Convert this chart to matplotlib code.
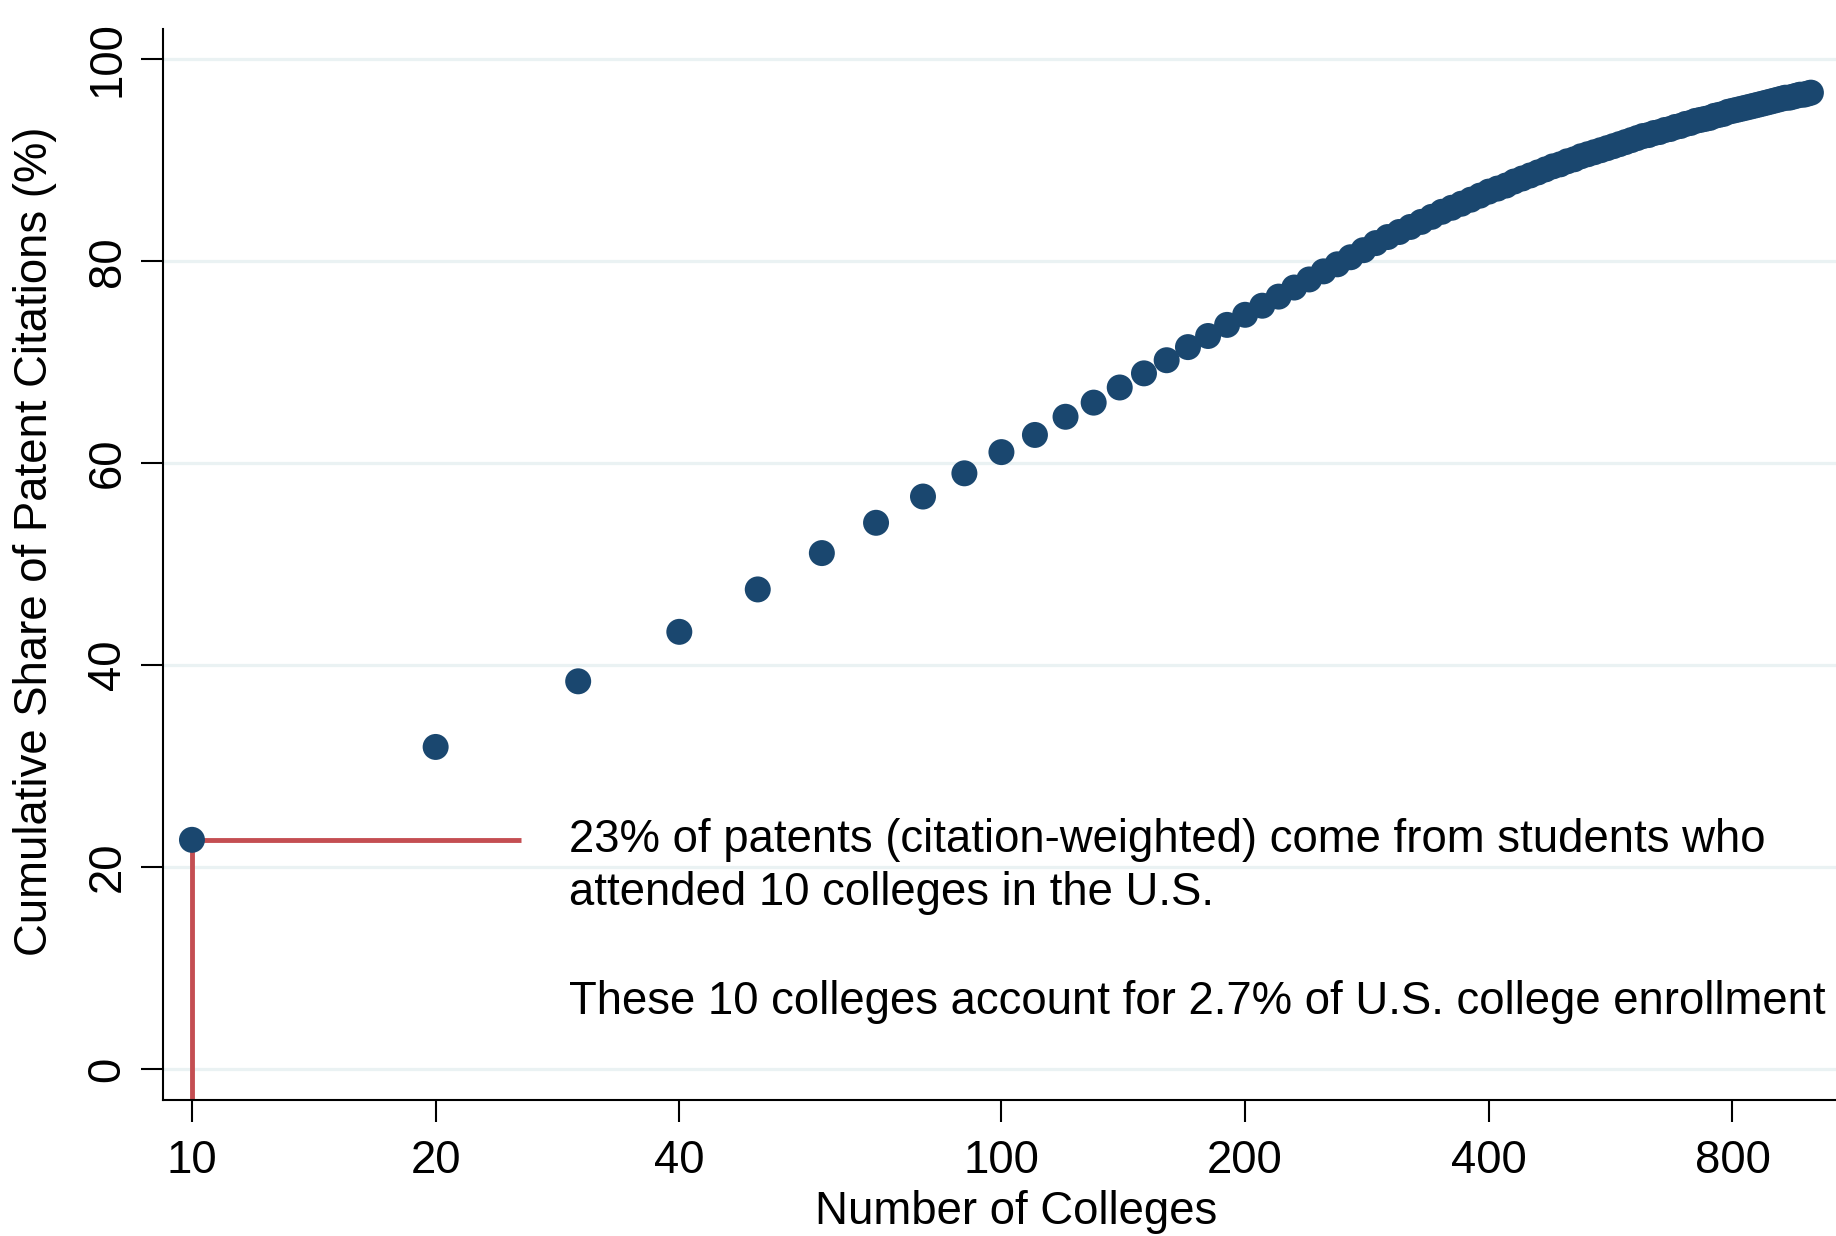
import matplotlib
matplotlib.use("Agg")
import matplotlib.pyplot as plt
import matplotlib.ticker as ticker

# ── data ──────────────────────────────────────────────────────────────────────
# number of colleges (top N), every 10 from 10 to 1000
n_colleges = list(range(10, 1001, 10))

# cumulative share of citation-weighted patents (%)
cum_share = [
    22.7, 31.9, 38.4, 43.3, 47.5, 51.1, 54.1, 56.7, 59.0, 61.1,   # 10-100
    62.8, 64.6, 66.0, 67.5, 68.9, 70.2, 71.5, 72.6, 73.7, 74.7,   # 110-200
    75.6, 76.5, 77.4, 78.2, 79.0, 79.7, 80.4, 81.1, 81.8, 82.4,   # 210-300
    82.9, 83.4, 83.9, 84.4, 84.9, 85.3, 85.7, 86.1, 86.5, 86.9,   # 310-400
    87.2, 87.5, 87.9, 88.2, 88.5, 88.8, 89.1, 89.4, 89.6, 89.9,   # 410-500
    90.1, 90.4, 90.6, 90.8, 91.0, 91.2, 91.4, 91.6, 91.8, 92.0,   # 510-600
    92.2, 92.4, 92.5, 92.7, 92.8, 93.0, 93.1, 93.3, 93.4, 93.6,   # 610-700
    93.7, 93.9, 94.0, 94.1, 94.2, 94.4, 94.5, 94.6, 94.8, 94.9,   # 710-800
    95.0, 95.1, 95.2, 95.3, 95.4, 95.5, 95.6, 95.7, 95.8, 95.9,   # 810-900
    96.0, 96.1, 96.2, 96.2, 96.3, 96.4, 96.5, 96.5, 96.6, 96.7,   # 910-1000
]

x_ticks = [10, 20, 40, 100, 200, 400, 800]
y_ticks = [0, 20, 40, 60, 80, 100]

# highlighted point: top 10 colleges
hl_n = 10
hl_share = 22.7
hl_line_end = 25.5   # where the horizontal marker line stops

note_lines = [
    "23% of patents (citation-weighted) come from students who",
    "attended 10 colleges in the U.S.",
    "These 10 colleges account for 2.7% of U.S. college enrollment",
]

# ── style ─────────────────────────────────────────────────────────────────────
plt.rcParams['font.family'] = ['Liberation Sans', 'DejaVu Sans']
FS = 32.8
NAVY = '#1a476f'
RED = '#c44e52'
GRID = '#eaf2f3'

fig = plt.figure(figsize=(18.36, 12.36), dpi=100, facecolor='white')
ax = fig.add_axes([0.0888, 0.110, 1 - 0.0888, 0.9765 - 0.110])

ax.set_xscale('log')
ax.set_xlim(9.21, 1074)
ax.set_ylim(-3.07, 103.0)

# horizontal gridlines at the y ticks
for yv in y_ticks:
    ax.axhline(yv, color=GRID, linewidth=2.3, zorder=0)

# red guide lines for the top-10 point
ax.plot([hl_n, hl_line_end], [hl_share, hl_share], color=RED,
        linewidth=3.5, solid_capstyle='butt', zorder=2)
ax.plot([hl_n, hl_n], [hl_share, -3.07], color=RED,
        linewidth=3.5, solid_capstyle='butt', zorder=2)

# the scatter itself
ax.scatter(n_colleges, cum_share, s=350, color=NAVY, edgecolors='none',
           zorder=3, clip_on=False)

# annotation text
ax.text(29.2, 22.67, note_lines[0], fontsize=FS, va='center', ha='left')
ax.text(29.2, 17.4, note_lines[1], fontsize=FS, va='center', ha='left')
ax.text(29.2, 6.6, note_lines[2], fontsize=FS, va='center', ha='left')

# ── axes ──────────────────────────────────────────────────────────────────────
ax.set_xticks(x_ticks)
ax.xaxis.set_major_formatter(ticker.FixedFormatter([str(v) for v in x_ticks]))
ax.xaxis.set_minor_locator(ticker.NullLocator())
ax.set_yticks(y_ticks)
ax.set_yticklabels([str(v) for v in y_ticks], rotation=90, va='center')

ax.tick_params(axis='both', direction='out', length=16, width=1.5,
               labelsize=FS, color='black')
ax.tick_params(axis='x', pad=12)
ax.tick_params(axis='y', pad=8)

for side in ['top', 'right']:
    ax.spines[side].set_visible(False)
for side in ['left', 'bottom']:
    ax.spines[side].set_linewidth(1.5)
    ax.spines[side].set_color('black')

ax.set_xlabel("Number of Colleges", fontsize=FS)
ax.set_ylabel("Cumulative Share of Patent Citations (%)", fontsize=FS)
ax.xaxis.set_label_coords(0.51, -0.1046)
ax.xaxis.label.set_va('center')
ax.yaxis.set_label_coords(-0.0765, 0.522)
ax.yaxis.label.set_va('center')

fig.savefig("out.png", dpi=100, facecolor='white')
